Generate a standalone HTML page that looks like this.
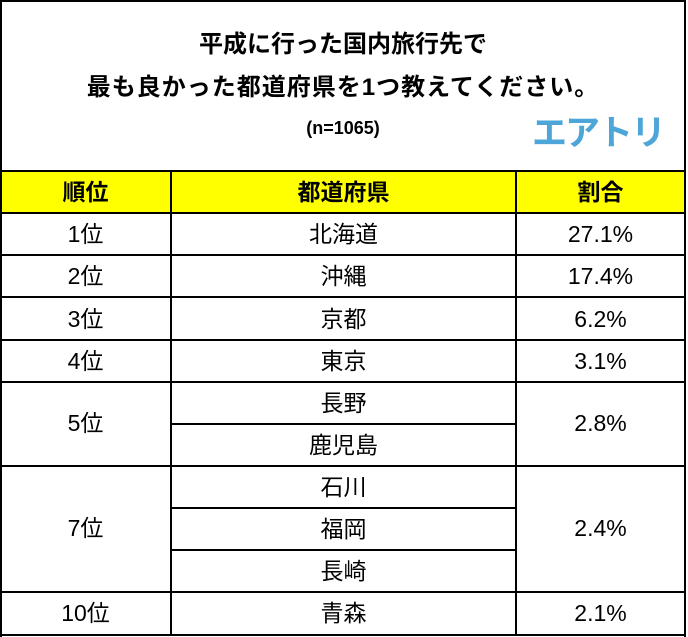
<!DOCTYPE html><html><head><meta charset="utf-8"><style>
body{margin:0;width:688px;height:637px;background:#fff;position:relative;overflow:hidden;font-family:"Liberation Sans","Noto Sans CJK JP",sans-serif;}
.a{position:absolute}
.h{position:absolute;background:#000;height:2px}
.v{position:absolute;background:#000;width:2px}
.t{position:absolute;text-align:center;font-size:23px;line-height:42px;color:#000}
.b{font-weight:bold}
</style></head><body>
<div class="a" style="left:0;top:171px;width:686px;height:42px;background:#ffff00"></div>
<div class="a b" style="left:0;width:686px;top:29px;text-align:center;font-size:24px;line-height:32px">平成に行った国内旅行先で</div>
<div class="a b" style="left:0;width:686px;top:72px;text-align:center;font-size:24px;line-height:32px;letter-spacing:1px">最も良かった都道府県を1つ教えてください。</div>
<div class="a b" style="left:0;width:686px;top:115px;text-align:center;font-size:18px;line-height:26px">(n=1065)</div>
<div class="a b" style="left:532px;top:111px;font-size:35px;line-height:46px;color:#4ea6d8;letter-spacing:-2px">エアトリ</div>
<div class="v" style="left:0;top:0;height:637px"></div>
<div class="v" style="left:684px;top:0;height:637px"></div>
<div class="h" style="left:0;top:0;width:686px"></div>
<div class="h" style="left:0;top:634px;width:686px"></div>
<div class="v" style="left:170px;top:171px;height:465px"></div>
<div class="v" style="left:515px;top:171px;height:465px"></div>
<div class="h" style="left:0;top:170px;width:686px"></div>
<div class="h" style="left:0;top:212px;width:686px"></div>
<div class="h" style="left:0;top:254px;width:686px"></div>
<div class="h" style="left:0;top:296px;width:686px"></div>
<div class="h" style="left:0;top:339px;width:686px"></div>
<div class="h" style="left:0;top:381px;width:686px"></div>
<div class="h" style="left:170px;top:423px;width:347px"></div>
<div class="h" style="left:0;top:465px;width:686px"></div>
<div class="h" style="left:170px;top:507px;width:347px"></div>
<div class="h" style="left:170px;top:549px;width:347px"></div>
<div class="h" style="left:0;top:591px;width:686px"></div>
<div class="t b" style="left:0;width:171px;top:171px">順位</div>
<div class="t b" style="left:171px;width:345px;top:171px">都道府県</div>
<div class="t b" style="left:516px;width:169px;top:171px">割合</div>
<div class="t" style="left:0;width:171px;top:213px">1位</div><div class="t" style="left:171px;width:345px;top:213px">北海道</div><div class="t" style="left:516px;width:169px;top:213px">27.1%</div>
<div class="t" style="left:0;width:171px;top:255px">2位</div><div class="t" style="left:171px;width:345px;top:255px">沖縄</div><div class="t" style="left:516px;width:169px;top:255px">17.4%</div>
<div class="t" style="left:0;width:171px;top:298px">3位</div><div class="t" style="left:171px;width:345px;top:298px">京都</div><div class="t" style="left:516px;width:169px;top:298px">6.2%</div>
<div class="t" style="left:0;width:171px;top:340px">4位</div><div class="t" style="left:171px;width:345px;top:340px">東京</div><div class="t" style="left:516px;width:169px;top:340px">3.1%</div>
<div class="t" style="left:0;width:171px;top:402px">5位</div><div class="t" style="left:171px;width:345px;top:382px">長野</div><div class="t" style="left:171px;width:345px;top:424px">鹿児島</div><div class="t" style="left:516px;width:169px;top:402px">2.8%</div>
<div class="t" style="left:0;width:171px;top:507px">7位</div><div class="t" style="left:171px;width:345px;top:466px">石川</div><div class="t" style="left:171px;width:345px;top:508px">福岡</div><div class="t" style="left:171px;width:345px;top:550px">長崎</div><div class="t" style="left:516px;width:169px;top:507px">2.4%</div>
<div class="t" style="left:0;width:171px;top:592px">10位</div><div class="t" style="left:171px;width:345px;top:592px">青森</div><div class="t" style="left:516px;width:169px;top:592px">2.1%</div>
</body></html>
